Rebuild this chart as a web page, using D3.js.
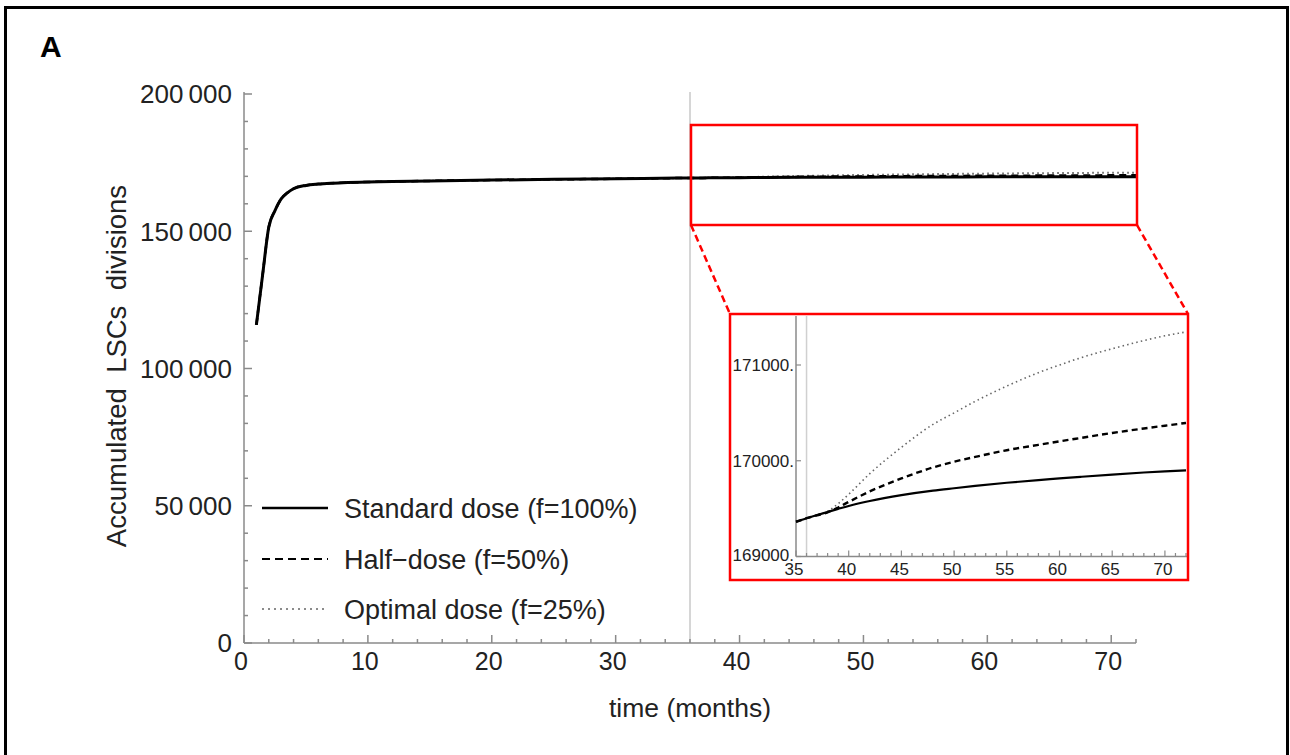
<!DOCTYPE html>
<html><head><meta charset="utf-8">
<script src="https://cdn.jsdelivr.net/npm/d3@7"></script>
<style>
html,body{margin:0;padding:0;background:#fff;}
svg{display:block;font-family:Arial,"Liberation Sans",sans-serif;}
</style></head>
<body>
<svg id="c" width="1290" height="755"></svg>
<script>
// ---- data ----
const monthsEarly = [1,1.5,2,2.5,3,3.5,4,5,6,7,8,10,12,15,20,25,30,35,36];
const valuesEarly = [115900,134000,151500,157500,161800,164000,165500,166700,167200,167500,167700,167950,168100,168350,168650,168900,169100,169363,169400];
const monthsLate   = [36,37,38,39,40,42,45,48,50,52,55,58,60,62,65,68,70,72];
const standardLate = [169400,169433,169465,169497,169528,169580,169641,169688,169713,169737,169770,169798,169815,169832,169856,169877,169889,169899];
const halfLate     = [169400,169430,169462,169512,169570,169680,169815,169930,169990,170040,170110,170166,170203,170238,170290,170337,170366,170395];
const optimalLate  = [169400,169432,169472,169552,169650,169865,170140,170380,170500,170620,170780,170920,171000,171075,171170,171255,171305,171345];
const seriesNames = ["Standard dose (f=100%)","Half\u2212dose (f=50%)","Optimal dose (f=25%)"];
const mainYTicks = [0,50000,100000,150000,200000];
const mainYTickLabels = ["0","50\u2009000","100\u2009000","150\u2009000","200\u2009000"];
const mainXTicks = [0,10,20,30,40,50,60,70];
const insetYTicks = [169000,170000,171000];
const insetYTickLabels = ["169000.","170000.","171000."];
const insetXTicks = [35,40,45,50,55,60,65,70];

function build(late){
  const pts = monthsEarly.slice(0,-1).map((m,i)=>({t:m,v:valuesEarly[i]}));
  monthsLate.forEach((m,i)=>pts.push({t:m,v:late[i]}));
  return pts;
}
const series = [standardLate, halfLate, optimalLate].map(build);
const styles = [
  {stroke:"#000", width:3, dash:null},
  {stroke:"#000", width:2.5, dash:"7,5"},
  {stroke:"#666", width:2, dash:"1.6,3.4"}
];
const insetStyles = [
  {stroke:"#000", width:2.2, dash:null},
  {stroke:"#000", width:2.4, dash:"6,4"},
  {stroke:"#666", width:1.6, dash:"1.5,3.2"}
];

const svg = d3.select("#c");
const axisCol = "#8a8a8a";
const txtCol = "#222";

// outer frame
svg.append("rect").attr("x",5.5).attr("y",7.5).attr("width",1282).attr("height",760)
  .attr("fill","none").attr("stroke","#000").attr("stroke-width",3);

svg.append("text").attr("x",40).attr("y",57).attr("font-size",30).attr("font-weight","bold")
  .attr("fill","#000").text("A");

// ---- main chart ----
const x = d3.scaleLinear().domain([0,72]).range([244,1136]);
const y = d3.scaleLinear().domain([0,200000]).range([643,94]);

svg.append("line").attr("x1",x(36)).attr("x2",x(36)).attr("y1",92).attr("y2",y(0))
  .attr("stroke","#c8c8c8").attr("stroke-width",1.5);

// y axis
const gy = svg.append("g");
gy.append("line").attr("x1",x(0)).attr("x2",x(0)).attr("y1",y(0)).attr("y2",92)
  .attr("stroke",axisCol).attr("stroke-width",1.5);
d3.range(0,200001,10000).forEach(v=>{
  const major = v%50000===0;
  gy.append("line").attr("x1",x(0)).attr("x2",x(0)+(major?8:4)).attr("y1",y(v)).attr("y2",y(v))
    .attr("stroke",axisCol).attr("stroke-width",1.5);
});
mainYTicks.forEach((v,i)=>{
  gy.append("text").attr("x",x(0)-12).attr("y",y(v)).attr("dy","0.36em").attr("text-anchor","end")
    .attr("font-size",26).attr("fill",txtCol).text(mainYTickLabels[i]);
});
// x axis
const gx = svg.append("g");
gx.append("line").attr("x1",x(0)).attr("x2",x(72)).attr("y1",y(0)).attr("y2",y(0))
  .attr("stroke",axisCol).attr("stroke-width",1.5);
d3.range(0,73,2).forEach(v=>{
  const major = v%10===0;
  gx.append("line").attr("x1",x(v)).attr("x2",x(v)).attr("y1",y(0)).attr("y2",y(0)-(major?8:4))
    .attr("stroke",axisCol).attr("stroke-width",1.5);
});
mainXTicks.forEach(v=>{
  gx.append("text").attr("x",x(v)-3).attr("y",y(0)+27).attr("text-anchor","middle")
    .attr("font-size",25).attr("fill",txtCol).text(v);
});
svg.append("text").attr("x",690).attr("y",717).attr("text-anchor","middle")
  .attr("font-size",26.5).attr("fill",txtCol).text("time (months)");
svg.append("text").attr("transform","translate(126,366) rotate(-90)").attr("text-anchor","middle")
  .attr("font-size",27.5).attr("fill",txtCol).style("white-space","pre")
  .text("Accumulated  LSCs  divisions");

// lines main
const lineMain = d3.line().x(d=>x(d.t)).y(d=>y(d.v)).curve(d3.curveMonotoneX);
[2,1,0].forEach(i=>{
  svg.append("path").datum(series[i]).attr("d",lineMain).attr("fill","none")
    .attr("stroke",styles[i].stroke).attr("stroke-width",styles[i].width)
    .attr("stroke-dasharray",styles[i].dash).attr("stroke-linejoin","round");
});

// legend
const legY = [508,559,609];
seriesNames.forEach((n,i)=>{
  svg.append("line").attr("x1",262).attr("x2",328).attr("y1",legY[i]).attr("y2",legY[i])
    .attr("stroke",styles[i].stroke).attr("stroke-width",styles[i].width-0.5)
    .attr("stroke-dasharray",i===0?null:(i===1?"8,5":"2,4"));
  svg.append("text").attr("x",344).attr("y",legY[i]).attr("dy","0.36em").attr("font-size",27)
    .attr("fill",txtCol).text(n);
});

// red zoom box
const red = "#ff0000";
svg.append("rect").attr("x",691).attr("y",125).attr("width",446).attr("height",100)
  .attr("fill","none").attr("stroke",red).attr("stroke-width",2.5);
svg.append("line").attr("x1",691).attr("y1",225).attr("x2",730).attr("y2",314)
  .attr("stroke",red).attr("stroke-width",2.5).attr("stroke-dasharray","7,4");
svg.append("line").attr("x1",1137).attr("y1",225).attr("x2",1188).attr("y2",314)
  .attr("stroke",red).attr("stroke-width",2.5).attr("stroke-dasharray","7,4");

// ---- inset ----
const ix = d3.scaleLinear().domain([35,72]).range([796,1186]);
const iy = d3.scaleLinear().domain([169000,171000]).range([556.5,365]);
const ig = svg.append("g");
ig.append("rect").attr("x",730).attr("y",314).attr("width",458).attr("height",266).attr("fill","#fff");
ig.append("line").attr("x1",ix(36)).attr("x2",ix(36)).attr("y1",316).attr("y2",iy(169000))
  .attr("stroke","#d0d0d0").attr("stroke-width",1.5);
ig.append("line").attr("x1",ix(35)).attr("x2",ix(35)).attr("y1",316).attr("y2",iy(169000))
  .attr("stroke",axisCol).attr("stroke-width",1.5);
ig.append("line").attr("x1",ix(35)).attr("x2",1187).attr("y1",iy(169000)).attr("y2",iy(169000))
  .attr("stroke",axisCol).attr("stroke-width",1.5);
d3.range(35,73,1).forEach(v=>{
  const major = v%5===0;
  ig.append("line").attr("x1",ix(v)).attr("x2",ix(v)).attr("y1",iy(169000)).attr("y2",iy(169000)-(major?6:3.5))
    .attr("stroke",axisCol).attr("stroke-width",1.2);
});
insetXTicks.forEach(v=>{
  ig.append("text").attr("x",ix(v)-2).attr("y",iy(169000)+18).attr("text-anchor","middle")
    .attr("font-size",17).attr("fill",txtCol).text(v);
});
insetYTicks.forEach((v,i)=>{
  ig.append("line").attr("x1",ix(35)).attr("x2",ix(35)+5).attr("y1",iy(v)).attr("y2",iy(v))
    .attr("stroke",axisCol).attr("stroke-width",1.2);
  ig.append("text").attr("x",ix(35)-2).attr("y",iy(v)-(i===0?2:0)).attr("dy","0.36em").attr("text-anchor","end")
    .attr("font-size",17).attr("fill",txtCol).text(insetYTickLabels[i]);
});
const lineInset = d3.line().x(d=>ix(d.t)).y(d=>iy(d.v)).curve(d3.curveMonotoneX);
[2,1,0].forEach(i=>{
  ig.append("path").datum(series[i].filter(d=>d.t>=35)).attr("d",lineInset).attr("fill","none")
    .attr("stroke",insetStyles[i].stroke).attr("stroke-width",insetStyles[i].width)
    .attr("stroke-dasharray",insetStyles[i].dash);
});
svg.append("rect").attr("x",730).attr("y",314).attr("width",458).attr("height",266)
  .attr("fill","none").attr("stroke",red).attr("stroke-width",2.5);
</script>
</body></html>
